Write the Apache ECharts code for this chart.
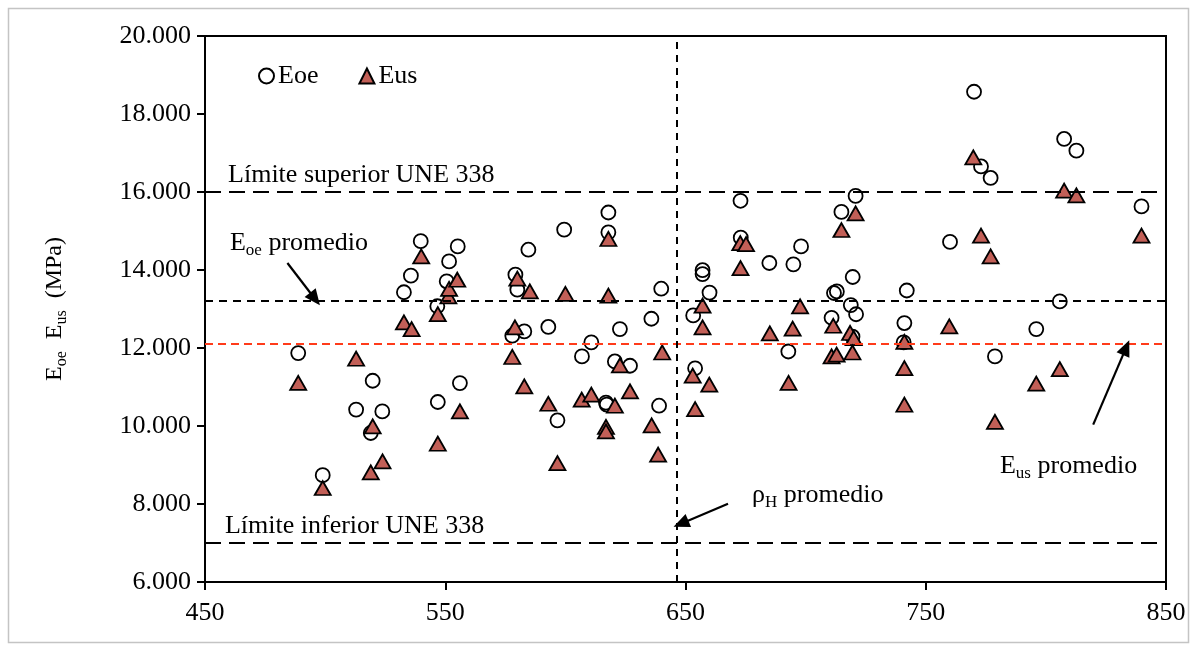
<!DOCTYPE html>
<html>
<head>
<meta charset="utf-8">
<title>Eoe Eus densidad</title>
<script src="https://cdn.jsdelivr.net/npm/echarts@6/dist/echarts.min.js"></script>
<style>
html, body { margin:0; padding:0; background:#fff; }
#main { width:1196px; height:650px; }
</style>
</head>
<body>
<div id="main"></div>
<script>
// densidad (kg/m3) y modulo (MPa)
var eoe = [
  [488.8,11870],[499.0,8740],[512.9,10420],[519.0,9820],[519.8,11160],[523.8,10375],
  [532.8,13430],[535.7,13855],[539.8,14740],[546.7,13070],[546.9,10615],[550.6,13710],
  [551.6,14220],[555.2,14605],[556.1,11100],[577.9,12315],[579.2,13880],[580.0,13495],
  [582.9,12425],[584.6,14520],[592.9,12540],[596.7,10145],[599.5,15035],[606.9,11785],
  [610.8,12145],[616.9,10600],[617.2,10550],[617.9,15475],[617.9,14965],[620.6,11655],
  [622.7,12485],[626.9,11545],[635.8,12750],[639.0,10520],[639.9,13520],[653.2,12835],
  [654.0,11480],[657.1,13995],[657.1,13895],[660.0,13420],[672.9,15775],[673.0,14830],
  [684.9,14180],[692.8,11910],[694.9,14145],[698.1,14605],[710.8,12775],[711.8,13410],
  [713.0,13450],[714.9,15490],[718.8,13100],[719.6,13820],[719.5,12290],[721.0,12865],
  [720.8,15900],[740.8,12145],[741.1,12640],[742.1,13475],[760.1,14720],[770.1,18570],
  [773.0,16655],[777.0,16360],[778.8,11785],[796.0,12485],[805.8,13195],[807.6,17360],
  [812.7,17060],[839.8,15630]
];
var eus = [
  [488.8,11105],[499.0,8410],[512.9,11725],[519.0,8810],[519.8,9990],[523.9,9095],
  [532.8,12655],[536.0,12485],[540.0,14350],[546.9,12870],[546.9,9545],[551.3,13325],
  [551.6,13515],[555.0,13750],[556.1,10375],[577.9,11770],[579.0,12530],[580.0,13780],
  [582.9,11015],[585.2,13450],[592.9,10570],[596.7,9050],[600.0,13390],[606.8,10675],
  [610.8,10805],[616.9,9975],[616.9,9860],[617.9,14795],[617.9,13340],[620.6,10520],
  [622.7,11555],[626.9,10890],[635.9,10015],[638.6,9265],[640.3,11885],[653.0,11290],
  [654.0,10435],[657.1,13085],[657.1,12530],[659.9,11060],[672.8,14690],[675.2,14665],
  [672.9,14050],[685.1,12375],[692.9,11105],[694.6,12495],[697.7,13065],[710.8,11785],
  [712.9,11830],[711.5,12570],[714.9,15025],[718.5,12385],[720.0,12255],[719.5,11885],
  [720.8,15450],[741.1,12155],[741.1,11485],[741.1,10545],[759.8,12555],[769.8,16890],
  [773.0,14880],[777.0,14350],[778.8,10105],[796.0,11085],[805.8,11460],[807.6,16035],
  [812.7,15915],[839.8,14880]
];

var limSup = 16000;
var limInf = 7000;
var eoeMedia = 13200;
var eusMedia = 12100;
var rhoMedia = 646.5;

// flechas: [desde, hasta]
var flechas = [
  [[484.3,14180],[495.8,13257]],
  [[667.7,8008],[648.1,7495]],
  [[819.7,10034],[833.4,12008]]
];

// textos de las anotaciones (x, y en unidades de datos)
var notas = [
  {x:459.6, y:16420, t:'{n|Límite superior UNE 338}'},
  {x:460.4, y:14700, t:'{n|E}{s|oe}{n| promedio}'},
  {x:458.3, y:7420,  t:'{n|Límite inferior UNE 338}'},
  {x:677.7, y:8220,  t:'{n|ρ}{s|H}{n| promedio}'},
  {x:780.9, y:8980,  t:'{n|E}{s|us}{n| promedio}'}
];

var serif = '"Liberation Serif", "Times New Roman", serif';
var rich = {
  n: {fontFamily: serif, fontSize: 26, lineHeight: 26, color: '#000', verticalAlign: 'top'},
  s: {fontFamily: serif, fontSize: 17, lineHeight: 17, color: '#000', verticalAlign: 'top', padding: [12, 0, 0, 0]}
};

var chart = echarts.init(document.getElementById('main'));

var option = {
  animation: false,
  backgroundColor: '#fff',
  grid: {left: 205, right: 30, top: 36, bottom: 68, show: true, borderColor: '#000', borderWidth: 2},
  legend: {
    data: ['Eoe', 'Eus'],
    left: 258, top: 63, padding: 0,
    itemWidth: 15, itemHeight: 15, itemGap: 40,
    textStyle: {fontFamily: serif, fontSize: 26, color: '#000', padding: [0, 0, 0, -1]}
  },
  xAxis: {
    type: 'value', min: 450, max: 850, interval: 100,
    axisLine: {show: true, onZero: false, lineStyle: {color: '#000', width: 2}},
    axisTick: {show: true, length: 8, lineStyle: {color: '#000', width: 2}},
    axisLabel: {color: '#000', fontFamily: serif, fontSize: 26, margin: 18},
    splitLine: {show: false}
  },
  yAxis: {
    type: 'value', min: 6000, max: 20000, interval: 2000,
    name: '{n|E}{s|oe}{n|  E}{s|us}{n|  (MPa)}',
    nameLocation: 'middle', nameGap: 138, nameRotate: 90,
    nameTextStyle: {rich: {
      n: {fontFamily: serif, fontSize: 24, lineHeight: 24, color: '#000', verticalAlign: 'top'},
      s: {fontFamily: serif, fontSize: 16, lineHeight: 16, color: '#000', verticalAlign: 'top', padding: [11, 0, 0, 0]}
    }},
    axisLine: {show: true, lineStyle: {color: '#000', width: 2}},
    axisTick: {show: true, length: 8, lineStyle: {color: '#000', width: 2}},
    axisLabel: {
      color: '#000', fontFamily: serif, fontSize: 26, margin: 14,
      formatter: function (v) { return (v / 1000).toFixed(3); }
    },
    splitLine: {show: false}
  },
  series: [
    {
      name: 'Eoe', type: 'scatter', data: eoe,
      symbol: 'circle', symbolSize: 14,
      itemStyle: {color: 'rgba(0,0,0,0)', borderColor: '#000', borderWidth: 1.8, opacity: 1}
    },
    {
      name: 'Eus', type: 'scatter', data: eus,
      symbol: 'triangle', symbolSize: [16, 14],
      itemStyle: {color: '#c25f57', borderColor: '#000', borderWidth: 1.8, opacity: 1}
    },
    {
      name: 'guias', type: 'scatter', data: [], silent: true,
      markLine: {
        silent: true, symbol: 'none', label: {show: false}, animation: false,
        data: [
          {yAxis: limSup, lineStyle: {color: '#000', width: 2, type: [16, 8]}},
          {yAxis: limInf, lineStyle: {color: '#000', width: 2, type: [16, 8]}},
          {yAxis: eoeMedia, lineStyle: {color: '#000', width: 2, type: [8, 6]}},
          {yAxis: eusMedia, lineStyle: {color: '#ff3b1a', width: 1.8, type: [8, 5]}},
          {xAxis: rhoMedia, lineStyle: {color: '#000', width: 2, type: [7, 6]}}
        ]
      }
    },
    {
      name: 'flechas', type: 'scatter', data: [], silent: true,
      markLine: {
        silent: true, symbol: ['none', 'triangle'], symbolSize: [14, 16],
        label: {show: false}, animation: false,
        lineStyle: {color: '#000', width: 2.2, type: 'solid'},
        data: flechas.map(function (f) { return [{coord: f[0]}, {coord: f[1]}]; })
      }
    }
  ]
};
chart.setOption(option);

var g = notas.map(function (n) {
  var p = chart.convertToPixel({gridIndex: 0}, [n.x, n.y]);
  return {
    type: 'text', x: p[0], y: p[1], silent: true,
    style: {text: n.t, rich: rich, align: 'left', verticalAlign: 'middle', fill: '#000'}
  };
});
g.push({
  type: 'rect', silent: true, z: -1,
  shape: {x: 8.5, y: 8.5, width: 1180, height: 634},
  style: {fill: 'none', stroke: '#c4c4c4', lineWidth: 1.5}
});
chart.setOption({graphic: g});
</script>
</body>
</html>
